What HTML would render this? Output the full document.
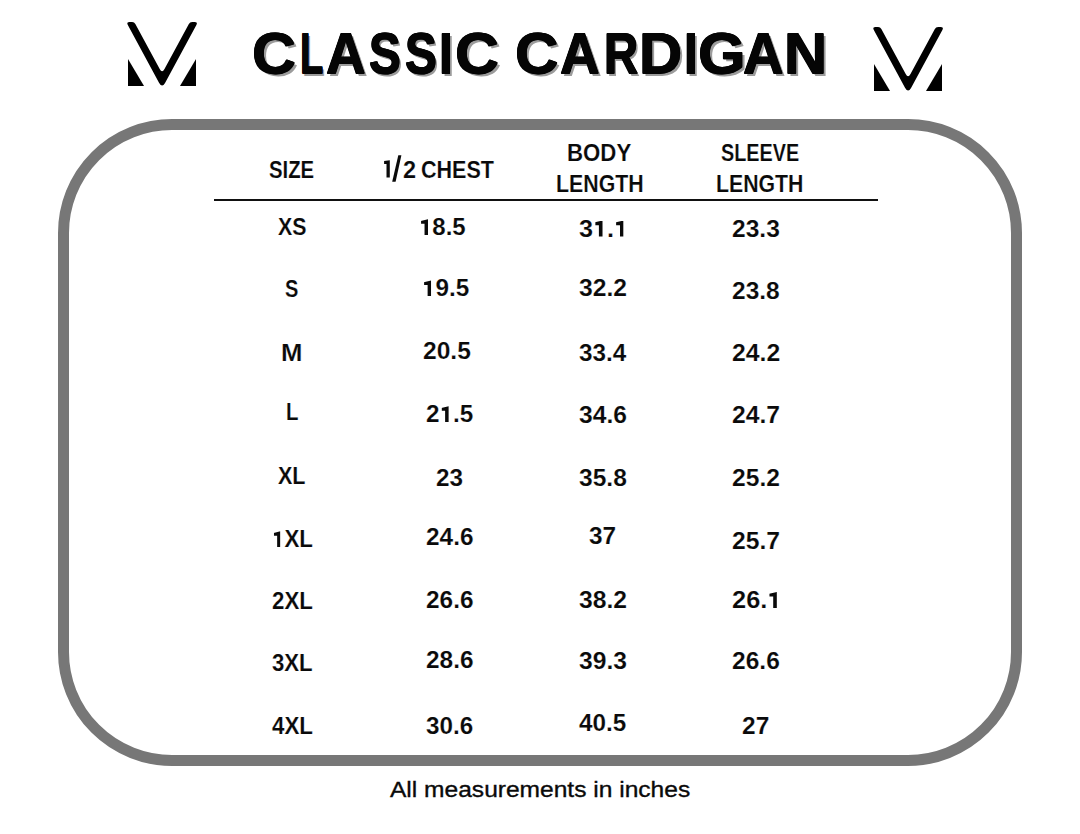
<!DOCTYPE html>
<html><head><meta charset="utf-8"><style>
html,body{margin:0;padding:0;background:#fff;}
body{width:1080px;height:834px;position:relative;overflow:hidden;font-family:"Liberation Sans",sans-serif;color:#0a0a0a;}
.t{position:absolute;white-space:pre;line-height:1;transform-origin:0 0;-webkit-text-stroke:0.15px #fff;}
.title{text-shadow:0.5px 0.5px 0 #050505,-0.5px -0.5px 0 #050505,0.5px -0.5px 0 #050505,-0.5px 0.5px 0 #050505,2.5px 2.5px 0 #9c9c9c;color:#050505;-webkit-text-stroke:0}
.box{position:absolute;left:57.5px;top:119px;width:964.5px;height:646.5px;box-sizing:border-box;border:11.6px solid #777;border-radius:114px;}
.rule{position:absolute;left:213.7px;top:198.6px;width:664.3px;height:2.2px;background:#111;}
.logo{position:absolute;}
.foot{-webkit-text-stroke:0.35px #0a0a0a;}
.one{color:transparent;position:relative}.one::before{content:"";position:absolute;left:0.075em;top:0.215em;width:0.30em;height:0.69em;background:#0a0a0a;clip-path:polygon(0 11%,100% 0,100% 100%,52% 100%,52% 29%,0 29%)}
</style></head><body>
<div class="box"></div>
<div class="rule"></div>
<svg class="slash" style="position:absolute;left:0;top:0" width="1080" height="834"><path d="M398.3 155.3 L401.4 155.3 L395.6 181.7 L392.2 181.7 Z" fill="#0a0a0a"/><path d="M384.1 160.9 L389.8 160.2 L389.8 177.6 L386.5 177.6 L386.5 163.9 L384.1 164.1 Z" fill="#0a0a0a"/></svg>
<svg class="logo" style="left:128px;top:22px" width="68" height="64" viewBox="0 0 68 64" overflow="visible">
<path d="M-0.18 2.99 Q-1.80 0.00 1.60 0.00 L4.10 0.00 Q6.30 0.00 7.35 1.94 L31.72 47.08 Q34.10 51.48 36.48 47.08 L60.85 1.94 Q61.90 0.00 64.10 0.00 L66.60 0.00 Q70.00 0.00 68.38 2.99 L37.19 60.76 Q34.10 66.48 31.01 60.76 Z" fill="#000"/>
<path d="M0 37 L16 64 L0 64 Z" fill="#000"/><path d="M68 37 L68 64 L52 64 Z" fill="#000"/></svg>
<svg class="logo" style="left:874px;top:26.5px" width="68" height="64" viewBox="0 0 68 64" overflow="visible">
<path d="M-0.18 2.99 Q-1.80 0.00 1.60 0.00 L4.10 0.00 Q6.30 0.00 7.35 1.94 L31.72 47.08 Q34.10 51.48 36.48 47.08 L60.85 1.94 Q61.90 0.00 64.10 0.00 L66.60 0.00 Q70.00 0.00 68.38 2.99 L37.19 60.76 Q34.10 66.48 31.01 60.76 Z" fill="#000"/>
<path d="M0 37 L16 64 L0 64 Z" fill="#000"/><path d="M68 37 L68 64 L52 64 Z" fill="#000"/></svg>
<span class="t" style="left:269.39px;top:159.21px;font-size:23.188px;font-weight:700;transform:scaleX(0.8765)">SIZE</span>
<span class="t" style="left:402.78px;top:158.81px;font-size:23.188px;font-weight:700;transform:scaleX(1.0152)">2</span>
<span class="t" style="left:421.04px;top:159.21px;font-size:23.188px;font-weight:700;transform:scaleX(0.9283)">CHEST</span>
<span class="t" style="left:567.25px;top:141.61px;font-size:23.188px;font-weight:700;transform:scaleX(0.9594)">BODY</span>
<span class="t" style="left:555.61px;top:173.21px;font-size:23.188px;font-weight:700;transform:scaleX(0.9199)">LENGTH</span>
<span class="t" style="left:720.91px;top:142.01px;font-size:23.188px;font-weight:700;transform:scaleX(0.8547)">SLEEVE</span>
<span class="t" style="left:716.02px;top:173.41px;font-size:23.188px;font-weight:700;transform:scaleX(0.9178)">LENGTH</span>
<span class="t" style="left:277.89px;top:216.01px;font-size:23.188px;font-weight:700;transform:scaleX(0.9196)">XS</span>
<span class="t" style="left:285.40px;top:278.21px;font-size:23.188px;font-weight:700;transform:scaleX(0.8625)">S</span>
<span class="t" style="left:281.33px;top:342.01px;font-size:23.188px;font-weight:700;transform:scaleX(1.1089)">M</span>
<span class="t" style="left:286.17px;top:400.81px;font-size:23.188px;font-weight:700;transform:scaleX(0.8792)">L</span>
<span class="t" style="left:278.38px;top:465.01px;font-size:23.188px;font-weight:700;transform:scaleX(0.9286)">XL</span>
<span class="t" style="left:271.73px;top:528.21px;font-size:23.188px;font-weight:700;transform:scaleX(0.9622)"><span class="one">1</span>XL</span>
<span class="t" style="left:271.72px;top:590.21px;font-size:23.188px;font-weight:700;transform:scaleX(0.9624)">2XL</span>
<span class="t" style="left:271.95px;top:652.41px;font-size:23.188px;font-weight:700;transform:scaleX(0.9570)">3XL</span>
<span class="t" style="left:271.66px;top:714.81px;font-size:23.188px;font-weight:700;transform:scaleX(0.9637)">4XL</span>
<span class="t" style="left:419.10px;top:216.21px;font-size:23.188px;font-weight:700;transform:scaleX(1.0355)"><span class="one">1</span>8.5</span>
<span class="t" style="left:422.07px;top:277.41px;font-size:23.188px;font-weight:700;transform:scaleX(1.0495)"><span class="one">1</span>9.5</span>
<span class="t" style="left:423.04px;top:340.21px;font-size:23.188px;font-weight:700;transform:scaleX(1.0615)">20.5</span>
<span class="t" style="left:426.05px;top:403.21px;font-size:23.188px;font-weight:700;transform:scaleX(1.0478)">2<span class="one">1</span>.5</span>
<span class="t" style="left:436.35px;top:467.21px;font-size:23.188px;font-weight:700;transform:scaleX(1.0491)">23</span>
<span class="t" style="left:426.05px;top:526.01px;font-size:23.188px;font-weight:700;transform:scaleX(1.0534)">24.6</span>
<span class="t" style="left:426.05px;top:589.01px;font-size:23.188px;font-weight:700;transform:scaleX(1.0534)">26.6</span>
<span class="t" style="left:426.05px;top:649.41px;font-size:23.188px;font-weight:700;transform:scaleX(1.0534)">28.6</span>
<span class="t" style="left:426.39px;top:714.81px;font-size:23.188px;font-weight:700;transform:scaleX(1.0455)">30.6</span>
<span class="t" style="left:578.87px;top:217.61px;font-size:23.188px;font-weight:700;transform:scaleX(1.0905)">3<span class="one">1</span>.<span class="one">1</span></span>
<span class="t" style="left:578.88px;top:277.41px;font-size:23.188px;font-weight:700;transform:scaleX(1.0667)">32.2</span>
<span class="t" style="left:578.89px;top:342.01px;font-size:23.188px;font-weight:700;transform:scaleX(1.0472)">33.4</span>
<span class="t" style="left:578.88px;top:404.01px;font-size:23.188px;font-weight:700;transform:scaleX(1.0638)">34.6</span>
<span class="t" style="left:578.88px;top:467.41px;font-size:23.188px;font-weight:700;transform:scaleX(1.0610)">35.8</span>
<span class="t" style="left:589.39px;top:525.21px;font-size:23.188px;font-weight:700;transform:scaleX(1.0523)">37</span>
<span class="t" style="left:578.88px;top:589.01px;font-size:23.188px;font-weight:700;transform:scaleX(1.0667)">38.2</span>
<span class="t" style="left:578.88px;top:650.21px;font-size:23.188px;font-weight:700;transform:scaleX(1.0638)">39.3</span>
<span class="t" style="left:579.34px;top:712.41px;font-size:23.188px;font-weight:700;transform:scaleX(1.0481)">40.5</span>
<span class="t" style="left:732.44px;top:217.61px;font-size:23.188px;font-weight:700;transform:scaleX(1.0603)">23.3</span>
<span class="t" style="left:732.44px;top:280.41px;font-size:23.188px;font-weight:700;transform:scaleX(1.0575)">23.8</span>
<span class="t" style="left:732.23px;top:341.81px;font-size:23.188px;font-weight:700;transform:scaleX(1.0701)">24.2</span>
<span class="t" style="left:732.43px;top:404.01px;font-size:23.188px;font-weight:700;transform:scaleX(1.0660)">24.7</span>
<span class="t" style="left:732.44px;top:467.41px;font-size:23.188px;font-weight:700;transform:scaleX(1.0631)">25.2</span>
<span class="t" style="left:732.43px;top:530.41px;font-size:23.188px;font-weight:700;transform:scaleX(1.0660)">25.7</span>
<span class="t" style="left:732.41px;top:589.01px;font-size:23.188px;font-weight:700;transform:scaleX(1.0968)">26.<span class="one">1</span></span>
<span class="t" style="left:732.44px;top:650.21px;font-size:23.188px;font-weight:700;transform:scaleX(1.0603)">26.6</span>
<span class="t" style="left:742.04px;top:714.81px;font-size:23.188px;font-weight:700;transform:scaleX(1.0583)">27</span>
<span class="t title" style="left:252.47px;top:24.86px;font-size:57.681px;font-weight:700;transform:scaleX(1.0534)">C</span>
<span class="t title" style="left:299.91px;top:24.86px;font-size:57.681px;font-weight:700;transform:scaleX(0.6632)">L</span>
<span class="t title" style="left:326.13px;top:24.86px;font-size:57.681px;font-weight:700;transform:scaleX(0.9522)">A</span>
<span class="t title" style="left:369.07px;top:24.86px;font-size:57.681px;font-weight:700;transform:scaleX(0.8264)">S</span>
<span class="t title" style="left:404.96px;top:24.86px;font-size:57.681px;font-weight:700;transform:scaleX(0.8293)">S</span>
<span class="t title" style="left:439.47px;top:24.86px;font-size:57.681px;font-weight:700;transform:scaleX(0.8609)">I</span>
<span class="t title" style="left:455.07px;top:24.86px;font-size:57.681px;font-weight:700;transform:scaleX(1.0534)">C</span>
<span class="t title" style="left:515.09px;top:24.86px;font-size:57.681px;font-weight:700;transform:scaleX(1.0428)">C</span>
<span class="t title" style="left:560.23px;top:24.86px;font-size:57.681px;font-weight:700;transform:scaleX(0.9522)">A</span>
<span class="t title" style="left:603.72px;top:24.86px;font-size:57.681px;font-weight:700;transform:scaleX(0.8218)">R</span>
<span class="t title" style="left:639.21px;top:24.86px;font-size:57.681px;font-weight:700;transform:scaleX(1.0374)">D</span>
<span class="t title" style="left:684.27px;top:24.86px;font-size:57.681px;font-weight:700;transform:scaleX(0.8609)">I</span>
<span class="t title" style="left:697.65px;top:24.86px;font-size:57.681px;font-weight:700;transform:scaleX(1.0607)">G</span>
<span class="t title" style="left:743.10px;top:24.86px;font-size:57.681px;font-weight:700;transform:scaleX(0.9729)">A</span>
<span class="t title" style="left:784.42px;top:24.86px;font-size:57.681px;font-weight:700;transform:scaleX(1.0343)">N</span>
<span class="t foot" style="left:390.18px;top:779.44px;font-size:22.177px;font-weight:400;transform:scaleX(1.1080)">All measurements in inches</span>
</body></html>
